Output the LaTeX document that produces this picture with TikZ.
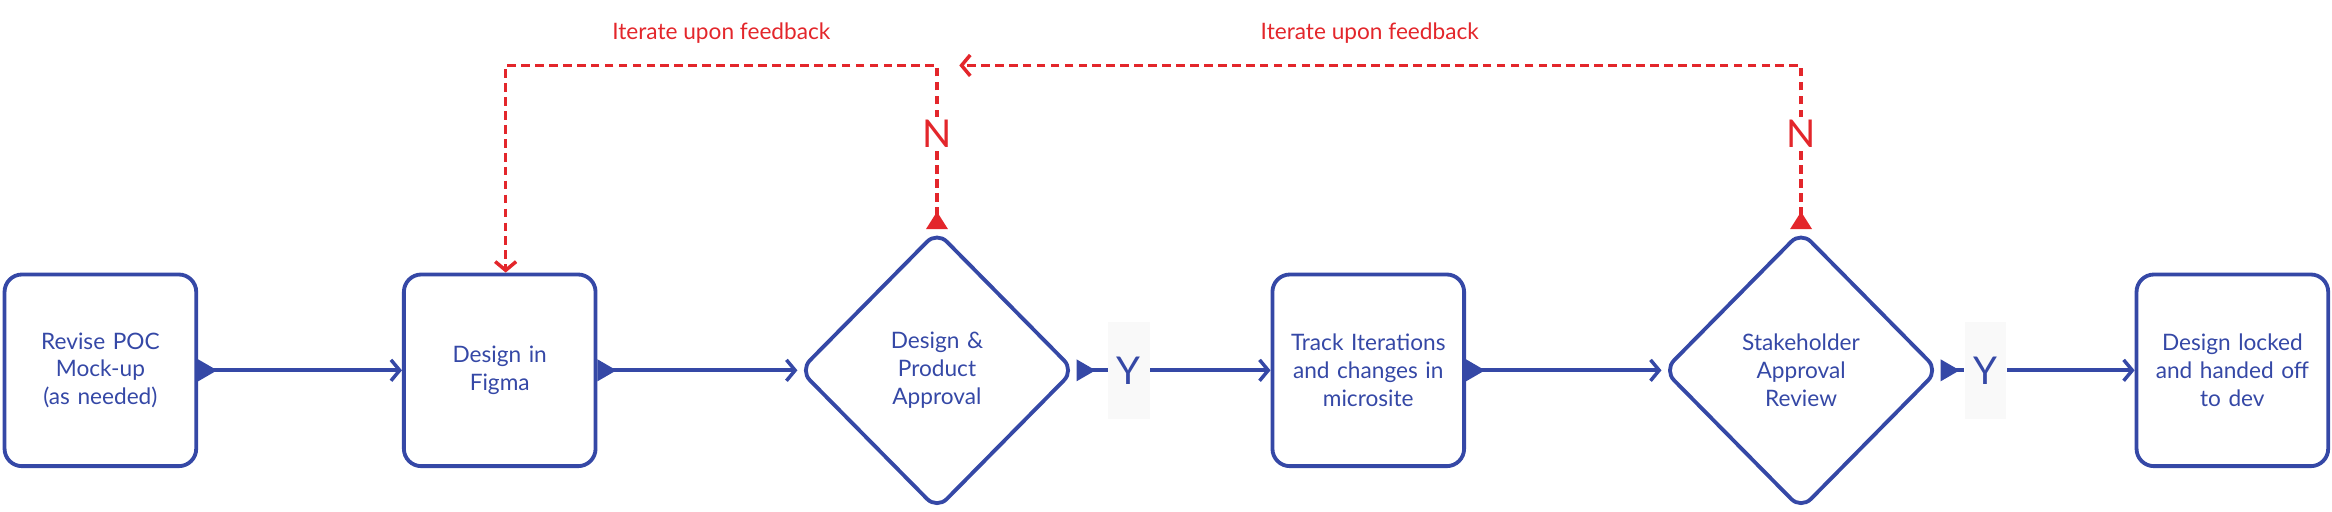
\documentclass[tikz,border=0pt]{standalone}
\usepackage{fontspec}
\setmainfont{Lato}
\usetikzlibrary{arrows.meta,shapes.geometric}
\definecolor{flowblue}{HTML}{3548A6}
\definecolor{flowred}{HTML}{E3262B}
\definecolor{ybg}{HTML}{F9F9F9}
\tikzset{
  stage/.style={draw=flowblue,line width=2.2pt,rounded corners=10pt,minimum width=110pt,minimum height=110pt,text width=100pt,align=center,text=flowblue,font=\fontsize{13}{16}\selectfont},
  check/.style={draw=flowblue,line width=2.2pt,diamond,rounded corners=8pt,minimum width=158pt,minimum height=160pt,aspect=1,text width=80pt,align=center,text=flowblue,font=\fontsize{13}{16}\selectfont},
  flow/.style={draw=flowblue,line width=2.2pt,{Triangle[reversed,length=11pt,width=12pt]}-{Straight Barb[length=5pt,width=12pt,line width=2pt]}},
  tail/.style={draw=flowblue,line width=2.2pt,{Triangle[reversed,length=11pt,width=12pt]}-},
  head/.style={draw=flowblue,line width=2.2pt,-{Straight Barb[length=5pt,width=12pt,line width=2pt]}},
  back/.style={draw=flowred,line width=2pt,dash pattern=on 5pt off 3pt,{Triangle[reversed,length=10pt,width=12pt]}-{Straight Barb[length=5pt,width=12pt,line width=2pt]}},
  yes/.style={fill=ybg,text=flowblue,font=\fontsize{22}{24}\selectfont,minimum width=24pt,minimum height=56pt,inner sep=0pt},
  no/.style={fill=white,text=flowred,font=\fontsize{22}{24}\selectfont,inner sep=2pt},
  note/.style={text=flowred,font=\fontsize{13}{16}\selectfont}
}
\begin{document}
\begin{tikzpicture}[x=0.03cm,y=-0.03cm]
\useasboundingbox (0,0) rectangle (1568,344);

% main row
\node[stage] (poc) at (67.5,249) {Revise POC\\Mock-up\\(as needed)};
\node[stage] (figma) at (336,249) {Design in\\Figma};
\node[check] (dpa) at (630,249) {Design \&\\Product\\Approval};
\node[yes] (y1) at (759,249) {Y};
\node[stage] (track) at (920,249) {Track Iterations\\and changes in\\microsite};
\node[check] (sar) at (1211,249) {Stakeholder\\Approval\\Review};
\node[yes] (y2) at (1335,249) {Y};
\node[stage] (lock) at (1501,249) {Design locked\\and handed off\\to dev};

\draw[flow] (poc.east) -- (figma.west);
\draw[flow] (figma.east) -- (dpa.west);
\draw[tail] (dpa.east) -- (y1.west);
\draw[head] (y1.east) -- (track.west);
\draw[flow] (track.east) -- (sar.west);
\draw[tail] (sar.east) -- (y2.west);
\draw[head] (y2.east) -- (lock.west);

% feedback loops
\coordinate (c1) at (630,44);
\coordinate (c2) at (340,44);
\coordinate (c3) at (1211,44);
\coordinate (c4) at (645,44);
\draw[back] (dpa.north) -- (c1) -- (c2) -- (figma.north -| c2);
\draw[back] (sar.north) -- (c3) -- (c4);
\node[no] (n1) at (630,90) {N};
\node[no] (n2) at (1211,90) {N};
\node[note] (fb1) at (485,22) {Iterate upon feedback};
\node[note] (fb2) at (921,22) {Iterate upon feedback};
\end{tikzpicture}
\end{document}
